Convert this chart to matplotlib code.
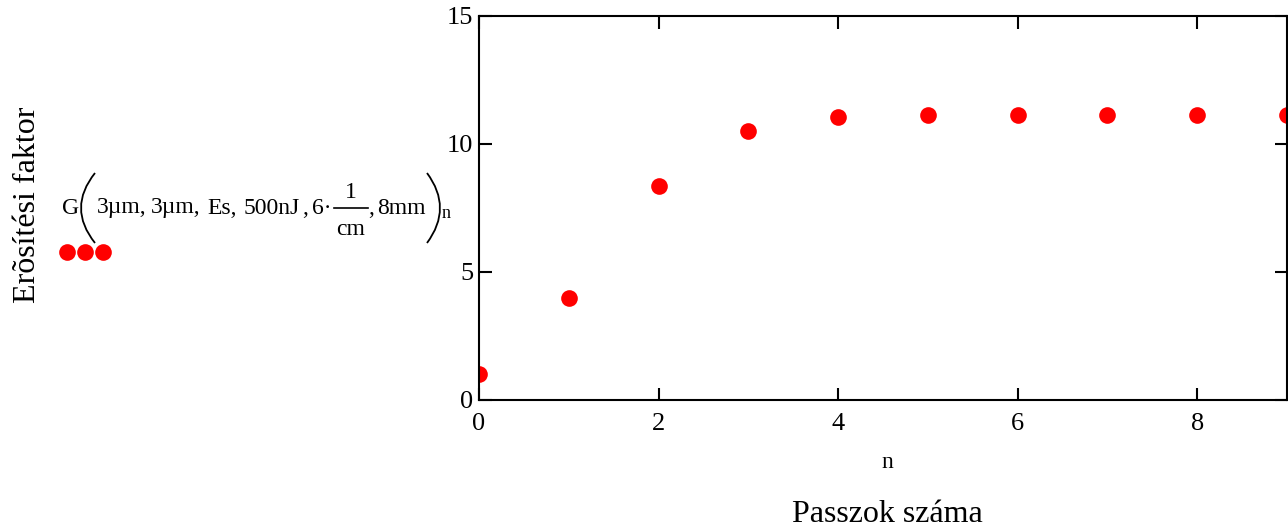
import matplotlib
matplotlib.use('Agg')
import matplotlib.pyplot as plt
from matplotlib.path import Path
from matplotlib.patches import PathPatch

# adatok
n_vals = [0, 1, 2, 3, 4, 5, 6, 7, 8, 9]
G_vals = [1.0, 3.98, 8.36, 10.5, 11.05, 11.13, 11.13, 11.13, 11.13, 11.13]
x_ticks = [0, 2, 4, 6, 8]
y_ticks = [0, 5, 10, 15]

plt.rcParams['font.family'] = ['Liberation Serif', 'DejaVu Serif']

W, H = 1288, 531
fig = plt.figure(figsize=(W / 100, H / 100), dpi=100)
ax = fig.add_axes([479 / W, 131 / H, 808 / W, 384 / H])

ax.plot(n_vals, G_vals, 'o', color='#ff0000', markersize=12, markeredgewidth=0)

ax.set_xlim(0, 9)
ax.set_ylim(0, 15)
ax.set_xticks(x_ticks)
ax.set_yticks(y_ticks)
ax.tick_params(direction='in', length=9, width=1.5, labelsize=19,
               top=True, right=True)
ax.tick_params(axis='x', pad=9)
ax.tick_params(axis='y', pad=4)
for s in ax.spines.values():
    s.set_linewidth(1.5)

# tengelyfeliratok
fig.text(887 / W, 1 - 463 / H, 'n', ha='center', va='center', fontsize=17)
fig.text(887 / W, 1 - 514 / H, 'Passzok száma', ha='center', va='center', fontsize=23)
fig.text(28 / W, 1 - 205 / H, 'Erõsítési faktor', ha='center', va='center',
         rotation=90, fontsize=23)


# jelmagyarázat (Mathcad-szerű kifejezés, darabokból)
def ftxt(x, y, s, **kw):
    return fig.text(x / W, 1 - y / H, s, va='center', **kw)


def paren(x0, xm, y0, y1):
    ym = (y0 + y1) / 2
    cx = 2 * xm - x0
    verts = [(x0 / W, 1 - y0 / H), (cx / W, 1 - ym / H), (x0 / W, 1 - y1 / H)]
    p = Path(verts, [Path.MOVETO, Path.CURVE3, Path.CURVE3])
    fig.add_artist(PathPatch(p, fill=False, lw=1.3, color='black',
                             transform=fig.transFigure))


fs = 17
yb = 208
ftxt(62, yb, 'G', ha='left', fontsize=fs)
paren(95, 81, 173, 243)
for x, s in [(97, '3µm,'), (151, '3µm,'), (207, 'Es,'), (244, '500nJ'),
             (302, ','), (312, '6·')]:
    ftxt(x, yb, s, ha='left', fontsize=fs)
ftxt(351, 192, '1', ha='center', fontsize=fs)
fig.add_artist(plt.Line2D([334 / W, 368 / W], [1 - yb / H, 1 - yb / H],
                          lw=1.2, color='black', transform=fig.transFigure))
ftxt(351, 229, 'cm', ha='center', fontsize=fs)
ftxt(368, yb, ',', ha='left', fontsize=fs)
ftxt(377, yb, '8mm', ha='left', fontsize=fs)
paren(427, 440, 173, 243)
ftxt(442, 214, 'n', ha='left', fontsize=13)

leg = fig.add_axes([55 / W, 1 - 262 / H, 60 / W, 20 / H])
leg.plot([0, 1, 2], [0, 0, 0], 'o', color='#ff0000', markersize=12, markeredgewidth=0)
leg.set_xlim(-0.65, 2.65)
leg.set_ylim(-1, 1)
leg.axis('off')

fig.savefig('out.png', dpi=100)
